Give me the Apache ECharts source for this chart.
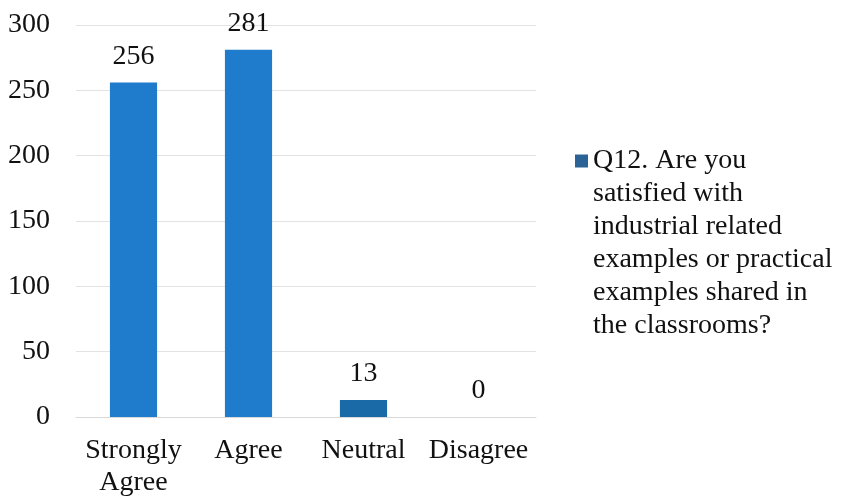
<!DOCTYPE html>
<html>
<head>
<meta charset="utf-8">
<script src="https://cdn.jsdelivr.net/npm/echarts@6/dist/echarts.min.js"></script>
<style>
  html, body { margin: 0; padding: 0; background: #fff; }
  #chart { width: 844px; height: 499px; }
</style>
</head>
<body>
<div id="chart"></div>
<script>
// data
const categories = ["Strongly\nAgree", "Agree", "Neutral", "Disagree"];
const responses = [256, 281, 13, 0];
const seriesName = "Q12. Are you\nsatisfied with\nindustrial related\nexamples or practical\nexamples shared in\nthe classrooms?";
const yTicks = { min: 0, max: 300, interval: 50 };

const font = "'Liberation Serif', 'DejaVu Serif', serif";
const lineH = 33;
const nLines = seriesName.split("\n").length;

const chart = echarts.init(document.getElementById("chart"));
chart.setOption({
  backgroundColor: "#fff",
  animation: false,
  grid: { left: 76, right: 308, top: 25, bottom: 82 },
  legend: {
    left: 575,
    // legend text is centred on the icon, so pad with blank lines above
    // to put the icon beside the first line
    top: 161 - ((2 * nLines - 1) * lineH) / 2,
    padding: 0,
    icon: "rect",
    itemWidth: 13,
    itemHeight: 13,
    itemStyle: { color: "#2b6396" },
    formatter: (name) => "\n".repeat(nLines - 1) + name,
    textStyle: {
      fontFamily: font,
      fontSize: 28,
      color: "#111",
      lineHeight: lineH,
    },
    data: [seriesName],
  },
  xAxis: {
    type: "category",
    data: categories,
    axisLine: { lineStyle: { color: "#d9d9d9" } },
    axisTick: { show: false },
    axisLabel: {
      fontFamily: font,
      fontSize: 28,
      color: "#111",
      lineHeight: 32,
      margin: 18,
      interval: 0,
    },
  },
  yAxis: {
    type: "value",
    min: yTicks.min,
    max: yTicks.max,
    interval: yTicks.interval,
    axisLine: { show: false },
    axisTick: { show: false },
    splitLine: { lineStyle: { color: "#e3e3e3" } },
    axisLabel: {
      fontFamily: font,
      fontSize: 28,
      color: "#111",
      margin: 26,
    },
  },
  series: [
    {
      name: seriesName,
      type: "bar",
      barCategoryGap: "59%",
      itemStyle: { color: "#1f7bcc" },
      label: {
        show: true,
        position: "top",
        distance: 12,
        fontFamily: font,
        fontSize: 28,
        color: "#111",
      },
      data: responses.map((v, i) =>
        i === 2 ? { value: v, itemStyle: { color: "#1b6aa8" } } : v
      ),
    },
  ],
});
</script>
</body>
</html>
